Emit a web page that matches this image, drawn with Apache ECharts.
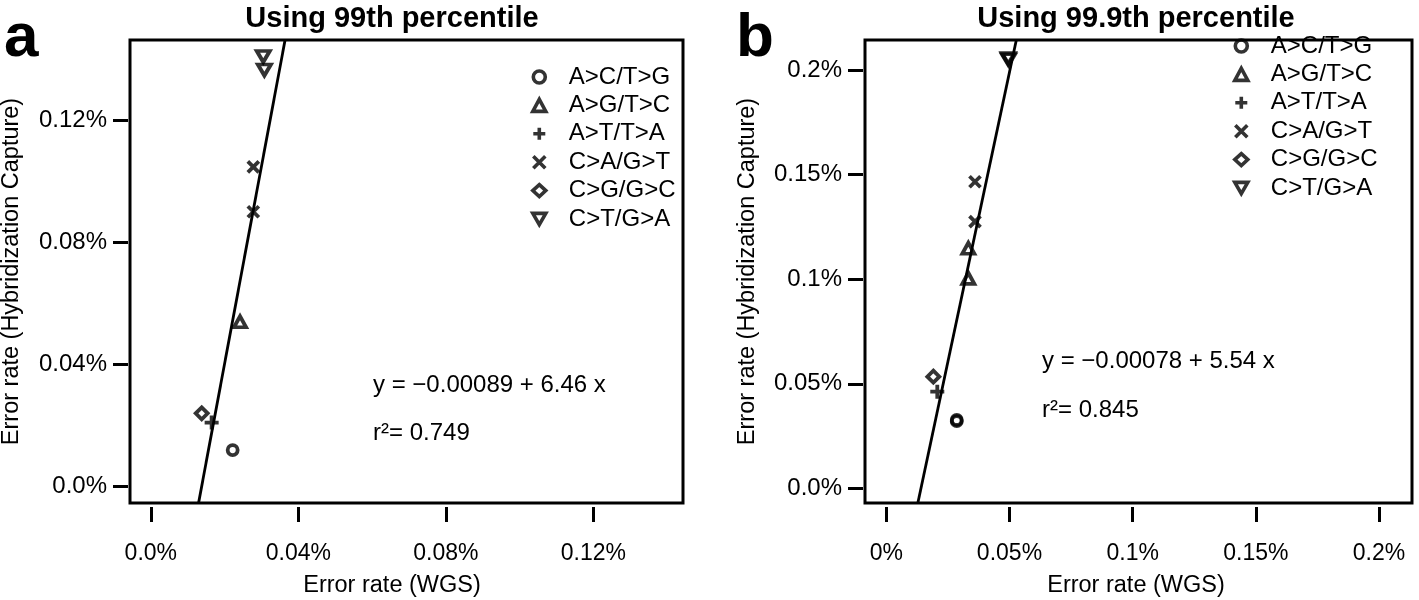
<!DOCTYPE html>
<html>
<head>
<meta charset="utf-8">
<script src="https://cdn.jsdelivr.net/npm/echarts@6/dist/echarts.min.js"></script>
<style>
  html, body { margin: 0; padding: 0; background: #fff; }
  #chart { width: 1419px; height: 600px; }
</style>
</head>
<body>
<div id="chart"></div>
<script>
// ---------------- DATA (values in percent units) ----------------
const categories = ['A>C/T>G', 'A>G/T>C', 'A>T/T>A', 'C>A/G>T', 'C>G/G>C', 'C>T/G>A'];

// Panel a: Using 99th percentile  (x = WGS, y = Hybridization Capture)
const a_ACTG_x = [0.0222];           const a_ACTG_y = [0.0120];
const a_AGTC_x = [0.0242];           const a_AGTC_y = [0.0540];
const a_ATTA_x = [0.0165];           const a_ATTA_y = [0.0210];
const a_CAGT_x = [0.0278, 0.0278];   const a_CAGT_y = [0.1047, 0.0900];
const a_CGGC_x = [0.0138];           const a_CGGC_y = [0.0240];
const a_CTGA_x = [0.0305, 0.0308];   const a_CTGA_y = [0.1408, 0.1364];

// Panel b: Using 99.9th percentile
const b_ACTG_x = [0.0286, 0.0286];   const b_ACTG_y = [0.0327, 0.0321];
const b_AGTC_x = [0.0333, 0.0333];   const b_AGTC_y = [0.1148, 0.1004];
const b_ATTA_x = [0.0207];           const b_ATTA_y = [0.0462];
const b_CAGT_x = [0.0360, 0.0360];   const b_CAGT_y = [0.1466, 0.1275];
const b_CGGC_x = [0.0191];           const b_CGGC_y = [0.0534];
const b_CTGA_x = [0.0495, 0.0496];   const b_CTGA_y = [0.2056, 0.2050];

// Regression lines (from the printed equations, converted to percent units)
const fitA_intercept = -0.089; const fitA_slope = 6.46;
const fitB_intercept = -0.078; const fitB_slope = 5.54;

// Axis ranges and ticks
const xRangeA = [-0.00564, 0.14432]; const yRangeA = [-0.00534, 0.14622];
const xRangeB = [-0.00864, 0.21338]; const yRangeB = [-0.00703, 0.21440];
const xTicksA = [0, 0.04, 0.08, 0.12]; const xTickLabelsA = ['0.0%', '0.04%', '0.08%', '0.12%'];
const yTicksA = [0, 0.04, 0.08, 0.12]; const yTickLabelsA = ['0.0%', '0.04%', '0.08%', '0.12%'];
const xTicksB = [0, 0.05, 0.1, 0.15, 0.2]; const xTickLabelsB = ['0%', '0.05%', '0.1%', '0.15%', '0.2%'];
const yTicksB = [0, 0.05, 0.1, 0.15, 0.2]; const yTickLabelsB = ['0.0%', '0.05%', '0.1%', '0.15%', '0.2%'];

const titleA = 'Using 99th percentile';
const titleB = 'Using 99.9th percentile';
const eqA = 'y = \u22120.00089 + 6.46 x'; const r2A = '0.749';
const eqB = 'y = \u22120.00078 + 5.54 x'; const r2B = '0.845';
const xName = 'Error rate (WGS)';
const yName = 'Error rate (Hybridization Capture)';

// ---------------- STYLE ----------------
const FONT = '"Liberation Sans", Arial, Helvetica, sans-serif';
const SYMBOLS = {
  'A>C/T>G': { symbol: 'circle', size: [10, 10] },
  'A>G/T>C': { symbol: 'triangle', size: [12, 11] },
  'A>T/T>A': { symbol: 'path://M0,5L10,5M5,0L5,10', size: [14, 14] },
  'C>A/G>T': { symbol: 'path://M0,0L10,10M10,0L0,10', size: [11, 11] },
  'C>G/G>C': { symbol: 'diamond', size: [12, 12] },
  'C>T/G>A': { symbol: 'path://M0,0L10,0L5,8.66Z', size: [13, 11] }
};
const markStyle = { color: 'rgba(0,0,0,0)', borderColor: '#000', borderWidth: 3.8 };

function zip(xs, ys) { return xs.map((x, i) => [x, ys[i]]); }
const panelA = [zip(a_ACTG_x, a_ACTG_y), zip(a_AGTC_x, a_AGTC_y), zip(a_ATTA_x, a_ATTA_y),
                zip(a_CAGT_x, a_CAGT_y), zip(a_CGGC_x, a_CGGC_y), zip(a_CTGA_x, a_CTGA_y)];
const panelB = [zip(b_ACTG_x, b_ACTG_y), zip(b_AGTC_x, b_AGTC_y), zip(b_ATTA_x, b_ATTA_y),
                zip(b_CAGT_x, b_CAGT_y), zip(b_CGGC_x, b_CGGC_y), zip(b_CTGA_x, b_CTGA_y)];

function lineEnds(b, m, yr) {
  return [[(yr[0] - b) / m, yr[0]], [(yr[1] - b) / m, yr[1]]];
}
function labelFor(ticks, labels) {
  return function (v) {
    let best = 0, d = Infinity;
    ticks.forEach((t, i) => { const dd = Math.abs(t - v); if (dd < d) { d = dd; best = i; } });
    return d < 1e-9 ? labels[best] : '';
  };
}
function xAxisCfg(idx, range, ticks, labels, shift) {
  return {
    type: 'value', gridIndex: idx, min: range[0], max: range[1], position: 'bottom', offset: 4,
    splitLine: { show: false }, axisLine: { show: false, onZero: false },
    axisTick: { show: true, inside: false, customValues: ticks, length: 15, lineStyle: { color: '#000', width: 3 } },
    axisLabel: { customValues: ticks, formatter: labelFor(ticks, labels), margin: 35, inside: false,
                 color: '#000', fontSize: 23, fontFamily: FONT, showMinLabel: true, showMaxLabel: true },
    name: xName, nameLocation: 'middle', nameGap: 67,
    nameTextStyle: { color: '#000', fontSize: 23.5, fontFamily: FONT, padding: [0, shift, 0, 0] }
  };
}
function yAxisCfg(idx, range, ticks, labels, gap) {
  return {
    type: 'value', gridIndex: idx, min: range[0], max: range[1], position: 'left', offset: 2,
    splitLine: { show: false }, axisLine: { show: false, onZero: false },
    axisTick: { show: true, inside: false, customValues: ticks, length: 15, lineStyle: { color: '#000', width: 3 } },
    axisLabel: { customValues: ticks, formatter: labelFor(ticks, labels), margin: 21, inside: false,
                 color: '#000', fontSize: 24, fontFamily: FONT, showMinLabel: true, showMaxLabel: true },
    name: yName, nameLocation: 'middle', nameGap: gap,
    nameTextStyle: { color: '#000', fontSize: 23.5, fontFamily: FONT }
  };
}

const series = [];
[panelA, panelB].forEach((panel, p) => {
  panel.forEach((data, i) => {
    const s = SYMBOLS[categories[i]];
    series.push({
      name: categories[i], type: 'scatter', xAxisIndex: p, yAxisIndex: p,
      symbol: s.symbol, symbolSize: s.size, data: data, itemStyle: markStyle,
      emphasis: { disabled: true }, z: 3
    });
  });
});
series.push({
  name: 'fitA', type: 'line', xAxisIndex: 0, yAxisIndex: 0, showSymbol: false, symbol: 'none',
  data: lineEnds(fitA_intercept, fitA_slope, yRangeA), lineStyle: { color: '#000', width: 2.8 }, z: 2, clip: true
});
series.push({
  name: 'fitB', type: 'line', xAxisIndex: 1, yAxisIndex: 1, showSymbol: false, symbol: 'none',
  data: lineEnds(fitB_intercept, fitB_slope, yRangeB), lineStyle: { color: '#000', width: 2.8 }, z: 2, clip: true
});

function legendCfg(left, top) {
  return {
    orient: 'vertical', left: left, top: top, itemWidth: 13, itemHeight: 12, itemGap: 4.4,
    selectedMode: false,
    data: categories.map(c => ({ name: c, icon: SYMBOLS[c].symbol })),
    itemStyle: { color: 'rgba(0,0,0,0)', borderColor: '#000', borderWidth: 3.6 },
    textStyle: { color: '#000', fontSize: 24, lineHeight: 24, fontFamily: FONT, padding: [0, 0, 0, 18] }
  };
}

function txt(x, y, text, size, opts) {
  return {
    type: 'text', x: x, y: y, silent: true,
    style: Object.assign({ text: text, fill: '#000', fontSize: size, fontFamily: FONT,
                           align: 'left', verticalAlign: 'middle' }, opts || {})
  };
}

const option = {
  backgroundColor: '#fff',
  animation: false,
  grid: [
    { left: 130, top: 40, width: 553, height: 463, show: true, borderColor: '#000', borderWidth: 3,
      backgroundColor: 'transparent', containLabel: false, outerBoundsMode: 'none' },
    { left: 865, top: 40, width: 547, height: 463, show: true, borderColor: '#000', borderWidth: 3,
      backgroundColor: 'transparent', containLabel: false, outerBoundsMode: 'none' }
  ],
  xAxis: [xAxisCfg(0, xRangeA, xTicksA, xTickLabelsA, 29), xAxisCfg(1, xRangeB, xTicksB, xTickLabelsB, 5)],
  yAxis: [yAxisCfg(0, yRangeA, yTicksA, yTickLabelsA, 104), yAxisCfg(1, yRangeB, yTicksB, yTickLabelsB, 103)],
  legend: [legendCfg(526, 60), legendCfg(1228, 29)],
  series: series,
  graphic: [
    txt(4, 39, 'a', 62, { fontWeight: 'bold' }),
    txt(736, 39, 'b', 62, { fontWeight: 'bold' }),
    txt(392, 19, titleA, 29, { fontWeight: 'bold', align: 'center' }),
    txt(1136, 19, titleB, 29, { fontWeight: 'bold', align: 'center' }),
    txt(373, 385, eqA, 24),
    txt(373, 433, 'r\u00B2= ' + r2A, 24),
    txt(1042, 361, eqB, 24),
    txt(1042, 410, 'r\u00B2= ' + r2B, 24)
  ]
};

const chart = echarts.init(document.getElementById('chart'), null, { renderer: 'canvas' });
chart.setOption(option);
</script>
</body>
</html>
